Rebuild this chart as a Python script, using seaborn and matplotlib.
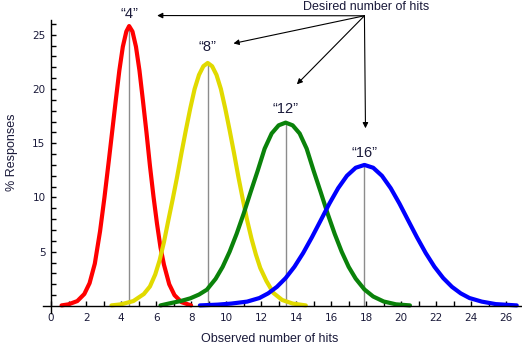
import numpy as np
import pandas as pd
import matplotlib
matplotlib.use("Agg")
import matplotlib.pyplot as plt
import seaborn as sns

# ==========================
# Data
# ==========================
red_x = [0.6, 1.0, 1.5, 1.9, 2.2, 2.5, 2.8, 3.05, 3.3, 3.5, 3.7, 3.9, 4.1, 4.3,
         4.46, 4.65, 4.85, 5.05, 5.25, 5.45, 5.65, 5.85, 6.05, 6.25, 6.45,
         6.75, 7.05, 7.45, 8.0]
red_y = [0.05, 0.15, 0.45, 1.1, 2.1, 3.9, 6.9, 10.0, 13.4, 16.2, 19.0, 21.7, 23.9,
         25.3, 25.8, 25.3, 23.9, 21.7, 18.9, 16.0, 12.9, 10.1, 7.6, 5.4, 3.8,
         2.0, 1.0, 0.35, 0.05]

yellow_x = [3.45, 4.0, 4.7, 5.3, 5.65, 5.95, 6.2, 6.45, 6.7, 6.95, 7.2, 7.45, 7.7,
            7.95, 8.2, 8.45, 8.7, 8.95, 9.2, 9.45, 9.7, 9.95, 10.2, 10.45, 10.7,
            10.95, 11.2, 11.45, 11.7, 11.95, 12.3, 12.7, 13.2, 13.8, 14.55]
yellow_y = [0.05, 0.15, 0.45, 1.1, 1.8, 2.9, 4.2, 5.9, 7.9, 9.85, 11.9, 14.1, 16.2,
            18.2, 20.0, 21.3, 22.1, 22.4, 22.1, 21.3, 20.0, 18.2, 16.2, 14.1, 11.9,
            9.85, 7.9, 6.2, 4.74, 3.5, 2.3, 1.2, 0.55, 0.22, 0.05]

green_x = [6.25, 6.8, 7.4, 7.95, 8.45, 8.9, 9.4, 9.8, 10.2, 10.6, 11.0, 11.4, 11.8,
           12.2, 12.6, 13.0, 13.4, 13.8, 14.2, 14.6, 15.0, 15.4, 15.8, 16.2, 16.6,
           17.0, 17.4, 17.9, 18.4, 19.0, 19.7, 20.5]
green_y = [0.05, 0.25, 0.45, 0.7, 1.05, 1.5, 2.5, 3.6, 5.0, 6.65, 8.5, 10.5, 12.45,
           14.5, 15.9, 16.65, 16.9, 16.65, 15.9, 14.5, 12.45, 10.5, 8.5, 6.65, 5.0,
           3.6, 2.52, 1.52, 0.87, 0.41, 0.15, 0.05]

blue_x = [8.5, 9.5, 10.3, 11.2, 11.9, 12.4, 12.9, 13.4, 13.9, 14.4, 14.9, 15.4,
          15.9, 16.4, 16.9, 17.4, 17.9, 18.4, 18.9, 19.4, 19.9, 20.4, 20.9, 21.4,
          21.9, 22.4, 22.9, 23.4, 23.9, 24.6, 25.4, 26.6]
blue_y = [0.05, 0.12, 0.22, 0.4, 0.73, 1.16, 1.76, 2.57, 3.61, 4.88, 6.33, 7.88,
          9.44, 10.86, 12.0, 12.74, 13.0, 12.74, 12.0, 10.86, 9.44, 7.88, 6.33, 4.88,
          3.61, 2.57, 1.76, 1.16, 0.73, 0.4, 0.17, 0.05]

desired = ["4", "8", "12", "16"]
colors = ["#FF0000", "#E1DA00", "#0A820A", "#0000FF"]

# ==========================
# Build long table
# ==========================
frames = []
for name, xs, ys in zip(desired, [red_x, yellow_x, green_x, blue_x],
                        [red_y, yellow_y, green_y, blue_y]):
    frames.append(pd.DataFrame({"hits": xs, "pct": ys, "desired": name}))
df = pd.concat(frames, ignore_index=True)

# ==========================
# Plot
# ==========================
sns.set_theme(style="white")
plt.rcParams["font.family"] = ["Liberation Sans", "DejaVu Sans"]

fig = plt.figure(figsize=(5.22, 3.55), dpi=100)
ax = fig.add_axes([43 / 522, 42 / 355, 479 / 522, 293 / 355])

# thin grey lines from the axis up to each peak
for name in desired:
    sub = df[df["desired"] == name]
    i = sub["pct"].idxmax()
    ax.vlines(sub.loc[i, "hits"], 0, sub.loc[i, "pct"], color="#8c8c8c",
              lw=1, zorder=1)

sns.lineplot(data=df, x="hits", y="pct", hue="desired", palette=colors,
             estimator=None, sort=True, lw=3, legend=False, ax=ax, zorder=2)

# peak labels
label_offsets = [1.1, 1.5, 1.3, 1.1]
for name, off in zip(desired, label_offsets):
    sub = df[df["desired"] == name]
    i = sub["pct"].idxmax()
    ax.text(sub.loc[i, "hits"], sub.loc[i, "pct"] + off, "\u201c" + name + "\u201d",
            ha="center", va="center", fontsize=10.5, color="#1a1a3a", clip_on=False)

# arrows from the "Desired number of hits" caption
src = (17.9, 26.75)
targets = [(6.06, 26.77), (10.42, 24.2), (14.04, 20.43), (17.96, 16.38)]
for t in targets:
    ax.annotate("", xy=t, xytext=src, annotation_clip=False,
                arrowprops=dict(arrowstyle="-|>", color="black", lw=0.8,
                                mutation_scale=8, shrinkA=0, shrinkB=0))
ax.text(18.0, 27.6, "Desired number of hits", ha="center", va="center",
        fontsize=9, color="#1a1a3a", clip_on=False)

# axes styling
ax.set_xlim(-0.46, 26.9)
ax.set_ylim(-0.65, 26.36)
ax.spines["left"].set_position(("data", 0))
ax.spines["bottom"].set_position(("data", 0))
ax.spines["top"].set_visible(False)
ax.spines["right"].set_visible(False)
for s in ["left", "bottom"]:
    ax.spines[s].set_color("black")
    ax.spines[s].set_linewidth(1)

ax.set_xticks(np.arange(0, 27, 2))
ax.set_xticks(np.arange(1, 27, 2), minor=True)
ax.set_yticks([5, 10, 15, 20, 25])
ax.set_yticks(np.arange(1, 27, 1), minor=True)
ax.tick_params(which="both", direction="in", length=3.5, width=1, color="black")
ax.tick_params(axis="x", which="both", bottom=True, pad=5)
ax.tick_params(axis="y", which="both", left=True, pad=4)
for lab in ax.get_xticklabels() + ax.get_yticklabels():
    lab.set_fontfamily("DejaVu Sans")
    lab.set_fontsize(7.5)
    lab.set_color("#1a1a3a")

ax.set_xlabel("Observed number of hits", fontsize=9, color="#1a1a3a")
ax.set_ylabel("% Responses", fontsize=9, color="#1a1a3a")
ax.xaxis.set_label_coords(0.474, -0.068)
ax.yaxis.set_label_coords(-0.052, 0.55)
ax.xaxis.label.set_va("top")

plt.savefig("out.png", dpi=100)
